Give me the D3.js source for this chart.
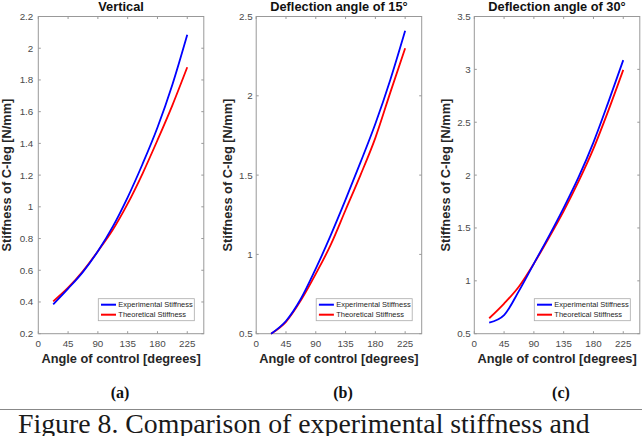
<!DOCTYPE html>
<html>
<head>
<meta charset="utf-8">
<script src="https://cdn.jsdelivr.net/npm/d3@7"></script>
<style>
body { margin: 0; background: #fff; }
svg text { font-family: "Liberation Sans", Arial, sans-serif; }
svg text.serif { font-family: "Liberation Serif", "Times New Roman", serif; }
</style>
</head>
<body>
<div id="chart"></div>
<script>
// control angle in degrees, stiffness in N/mm
var angles = [22.5, 45, 67.5, 90, 112.5, 135, 157.5, 180, 202.5, 225];
var xTicks = [0, 45, 90, 135, 180, 225];

var expVertical  = [0.385, 0.484, 0.59, 0.72, 0.875, 1.06, 1.27, 1.50, 1.77, 2.085];
var theoVertical = [0.404, 0.49, 0.595, 0.72, 0.855, 1.02, 1.21, 1.42, 1.64, 1.88];
var exp15  = [0.50, 0.58, 0.72, 0.91, 1.12, 1.345, 1.58, 1.824, 2.10, 2.41];
var theo15 = [0.50, 0.575, 0.71, 0.877, 1.06, 1.28, 1.50, 1.735, 2.02, 2.30];
var exp30  = [0.605, 0.676, 0.905, 1.163, 1.42, 1.69, 1.98, 2.31, 2.69, 3.087];
var theo30 = [0.646, 0.785, 0.947, 1.163, 1.405, 1.66, 1.94, 2.25, 2.61, 2.995];

var yTicksVertical = [0.2, 0.4, 0.6, 0.8, 1, 1.2, 1.4, 1.6, 1.8, 2, 2.2];
var yTicks15 = [0.5, 1, 1.5, 2, 2.5];
var yTicks30 = [0.5, 1, 1.5, 2, 2.5, 3, 3.5];

var titles = ['Vertical', 'Deflection angle of 15\u00b0', 'Deflection angle of 30\u00b0'];
var letters = ['(a)', '(b)', '(c)'];
var seriesNames = ['Experimental Stiffness', 'Theoretical Stiffness'];

var panels = [
  { left: 38.3, exp: expVertical, theo: theoVertical, ticks: yTicksVertical, tickGap: 5, labelOff: 27, letterX: 120 },
  { left: 256.2, exp: exp15, theo: theo15, ticks: yTicks15, tickGap: 3.5, labelOff: 24, letterX: 343 },
  { left: 474.3, exp: exp30, theo: theo30, ticks: yTicks30, tickGap: 3.5, labelOff: 24, letterX: 561 }
];

var W = 642, H = 436;
var plotTop = 16.5, plotBottom = 333.7, pw = 165.5;
var boxColor = '#999';

var svg = d3.select('#chart').append('svg')
  .attr('width', W)
  .attr('height', H);

svg.append('rect').attr('width', W).attr('height', H).attr('fill', '#fff');

var fmt = function(d) { return String(+d.toFixed(1)); };

panels.forEach(function(p, i) {
  var x = d3.scaleLinear().domain([0, 250]).range([p.left, p.left + pw]);
  var y = d3.scaleLinear().domain([p.ticks[0], p.ticks[p.ticks.length - 1]]).range([plotBottom, plotTop]);
  var g = svg.append('g');

  // axes box
  g.append('rect')
    .attr('x', x(0)).attr('y', plotTop)
    .attr('width', pw).attr('height', plotBottom - plotTop)
    .attr('fill', 'none').attr('stroke', boxColor).attr('stroke-width', 1);

  // ticks, all four sides, pointing in
  var tl = 2.5;
  xTicks.forEach(function(t) {
    g.append('line').attr('x1', x(t)).attr('x2', x(t)).attr('y1', plotBottom).attr('y2', plotBottom - tl).attr('stroke', boxColor);
    g.append('line').attr('x1', x(t)).attr('x2', x(t)).attr('y1', plotTop).attr('y2', plotTop + tl).attr('stroke', boxColor);
  });
  p.ticks.forEach(function(t) {
    g.append('line').attr('x1', x(0)).attr('x2', x(0) + tl).attr('y1', y(t)).attr('y2', y(t)).attr('stroke', boxColor);
    g.append('line').attr('x1', x(250)).attr('x2', x(250) - tl).attr('y1', y(t)).attr('y2', y(t)).attr('stroke', boxColor);
  });

  // tick labels
  g.selectAll('.xt').data(xTicks).enter().append('text')
    .attr('x', function(d) { return x(d); })
    .attr('y', plotBottom + 12.8)
    .attr('text-anchor', 'middle')
    .attr('font-size', 9.8)
    .attr('fill', '#4a4a4a')
    .text(function(d) { return d; });
  g.selectAll('.yt').data(p.ticks).enter().append('text')
    .attr('x', x(0) - p.tickGap)
    .attr('y', function(d) { return y(d) + 3.4; })
    .attr('text-anchor', 'end')
    .attr('font-size', 9.8)
    .attr('fill', '#4a4a4a')
    .text(fmt);

  // title and axis labels
  g.append('text')
    .attr('x', x(125)).attr('y', 10.7)
    .attr('text-anchor', 'middle')
    .attr('font-size', 12.8).attr('font-weight', 'bold')
    .attr('fill', '#111')
    .text(titles[i]);
  g.append('text')
    .attr('x', x(125)).attr('y', 363)
    .attr('text-anchor', 'middle')
    .attr('font-size', 12.8).attr('font-weight', 'bold')
    .attr('fill', '#262626')
    .text('Angle of control [degrees]');
  g.append('text')
    .attr('transform', 'translate(' + (x(0) - p.labelOff) + ',' + ((plotTop + plotBottom) / 2) + ') rotate(-90)')
    .attr('text-anchor', 'middle')
    .attr('font-size', 12.8).attr('font-weight', 'bold')
    .attr('fill', '#262626')
    .text('Stiffness of C-leg [N/mm]');

  // curves
  var line = d3.line()
    .x(function(d) { return x(d[0]); })
    .y(function(d) { return y(d[1]); })
    .curve(d3.curveMonotoneX);
  g.append('path')
    .datum(d3.zip(angles, p.theo))
    .attr('d', line)
    .attr('fill', 'none').attr('stroke', '#ff0000').attr('stroke-width', 1.8);
  g.append('path')
    .datum(d3.zip(angles, p.exp))
    .attr('d', line)
    .attr('fill', 'none').attr('stroke', '#0000ff').attr('stroke-width', 1.8);

  // legend
  var lw = 96, lh = 22;
  var lx = x(250) - 9.5 - lw, ly = plotBottom - 13 - lh;
  var lg = g.append('g').attr('transform', 'translate(' + lx + ',' + ly + ')');
  lg.append('rect').attr('width', lw).attr('height', lh)
    .attr('fill', '#fff').attr('stroke', '#aaa').attr('stroke-width', 0.8);
  ['#0000ff', '#ff0000'].forEach(function(c, k) {
    var yy = 6 + k * 10;
    lg.append('line').attr('x1', 2.7).attr('x2', 17.7).attr('y1', yy).attr('y2', yy)
      .attr('stroke', c).attr('stroke-width', 2);
    lg.append('text').attr('x', 20).attr('y', yy + 2.6)
      .attr('font-size', 7.5).attr('fill', '#262626')
      .text(seriesNames[k]);
  });

  // subfigure letter
  g.append('text')
    .attr('class', 'serif')
    .attr('x', p.letterX).attr('y', 397.5)
    .attr('text-anchor', 'middle')
    .attr('font-size', 16).attr('font-weight', 'bold')
    .attr('fill', '#111')
    .text(letters[i]);
});

// rule and caption
svg.append('line')
  .attr('x1', 0).attr('x2', W).attr('y1', 409.5).attr('y2', 409.5)
  .attr('stroke', '#888').attr('stroke-width', 1);
svg.append('text')
  .attr('class', 'serif')
  .attr('x', 18).attr('y', 433.2)
  .attr('font-size', 27.8)
  .attr('fill', '#1a1a1a')
  .text('Figure 8. Comparison of experimental stiffness and');
</script>
</body>
</html>
